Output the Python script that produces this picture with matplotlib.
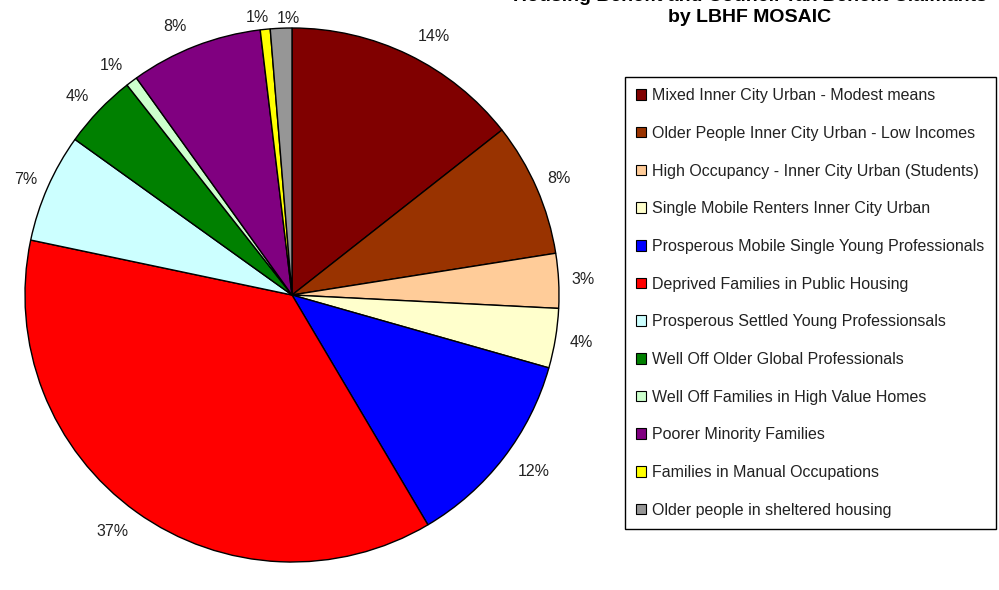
import numpy as np
import matplotlib.pyplot as plt
from matplotlib.patches import Patch

plt.rcParams['font.family'] = ['Liberation Sans', 'DejaVu Sans']

# MOSAIC groups, clockwise from 12 o'clock
groups = [
    'Mixed Inner City Urban - Modest means',
    'Older People Inner City Urban - Low Incomes',
    'High Occupancy - Inner City Urban (Students)',
    'Single Mobile Renters Inner City Urban',
    'Prosperous Mobile Single Young Professionals',
    'Deprived Families in Public Housing',
    'Prosperous Settled Young Professionsals',
    'Well Off Older Global Professionals',
    'Well Off Families in High Value Homes',
    'Poorer Minority Families',
    'Families in Manual Occupations',
    'Older people in sheltered housing',
]
shares = [14.4, 8.1, 3.3, 3.6, 12.1, 36.8, 6.6, 4.5, 0.7, 8.0, 0.6, 1.3]
colors = ['#800000', '#993300', '#FFCC99', '#FFFFCC', '#0000FF', '#FF0000',
          '#CCFFFF', '#008000', '#CCFFCC', '#800080', '#FFFF00', '#969696']

total = sum(shares)
labels = ['%.0f%%' % (100 * s / total) for s in shares]

cx, cy, r = 292, 295, 267
# how far out each percentage sits (in radii); the top two are pulled in
label_dist = [1.12, 1.09, 1.09, 1.1, 1.12, 1.11, 1.09, 1.11, 1.11, 1.11, 1.05, 1.04]
# hand tweaks (dx, dy) in pixels so labels sit clear of the rim and each other
nudge = {0: (11, -10), 9: (-10, -8), 8: (-3, -8), 7: (-1, -6), 10: (-6, -1),
         11: (8, -1), 4: (5, 6), 5: (-7, 4), 6: (0, -2)}

fig = plt.figure(figsize=(9.99, 5.9), dpi=100)
ax = fig.add_axes([0, 0, 1, 1])

wedges, _ = ax.pie(shares, colors=colors, startangle=90, counterclock=False,
                   center=(cx, cy), radius=r,
                   wedgeprops=dict(edgecolor='black', linewidth=1))
for i, (w, lab, d) in enumerate(zip(wedges, labels, label_dist)):
    mid = np.deg2rad((w.theta1 + w.theta2) / 2)
    dx, dy = nudge.get(i, (0, 0))
    ax.text(cx + d * r * np.cos(mid) + dx, cy + d * r * np.sin(mid) + dy, lab,
            ha='center', va='center', fontsize=11.5, color='#222222')

ax.set_xlim(0, 999)
ax.set_ylim(0, 590)
ax.set_aspect('equal')
ax.axis('off')

# title, first line runs off the top edge
fig.text(750 / 999, 1 - 1 / 590, 'Housing Benefit and Council Tax Benefit Claimants',
         ha='center', va='baseline', fontsize=14, fontweight='bold')
fig.text(750 / 999, 1 - 17 / 590, 'by LBHF MOSAIC', ha='center', va='center',
         fontsize=14, fontweight='bold')

handles = [Patch(facecolor=c, edgecolor='black', linewidth=0.8) for c in colors]
leg = fig.legend(handles, groups, loc='upper left',
                 bbox_to_anchor=(625 / 999, 1 - 77 / 590), borderaxespad=0,
                 fontsize=11.5, frameon=True, fancybox=False, framealpha=1,
                 edgecolor='black', labelspacing=1.42, handlelength=0.63,
                 handleheight=0.63, handletextpad=0.38, borderpad=0.7,
                 labelcolor='#222222')
leg.get_frame().set_linewidth(1)

fig.savefig('out.png', dpi=100, facecolor='white')
